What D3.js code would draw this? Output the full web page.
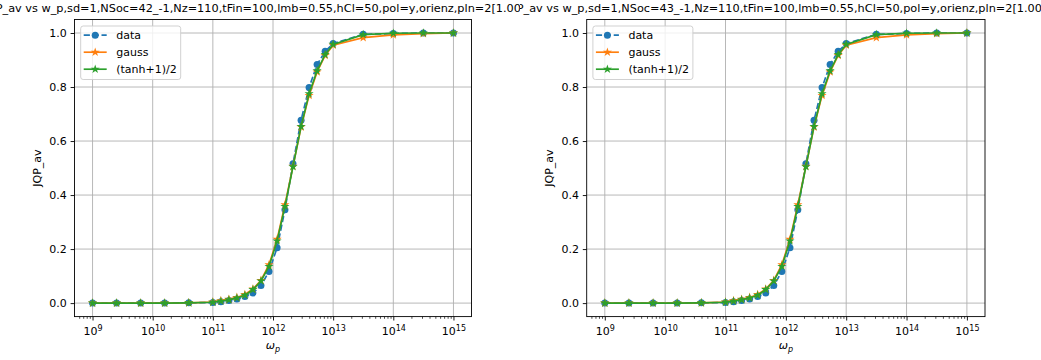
<!DOCTYPE html>
<html>
<head>
<meta charset="utf-8">
<script src="https://cdn.jsdelivr.net/npm/d3@7"></script>
<style>
  body { margin: 0; background: #fff; }
  svg { display: block; font-family: "DejaVu Sans", sans-serif; }
  .tick text { font-family: "DejaVu Sans", sans-serif; }
</style>
</head>
<body>
<div id="chart"></div>
<script>
// omega_p sample points (log spaced)
const wP = [1e9, 2.51e9, 6.31e9, 1.58e10, 3.98e10, 1e11, 1.36e11, 1.85e11, 2.51e11, 3.41e11,
  4.64e11, 6.31e11, 8.58e11, 1.17e12, 1.58e12, 2.15e12, 2.93e12, 3.98e12, 5.41e12, 7.36e12,
  1e13, 3.16e13, 1e14, 3.16e14, 1e15];

// measured JQP_av
const jqpData = [0, 0, 0, 0, 0.001, 0.002, 0.005, 0.01, 0.015, 0.024,
  0.037, 0.065, 0.117, 0.205, 0.346, 0.516, 0.677, 0.798, 0.883, 0.932,
  0.961, 0.995, 0.998, 1.0, 1.0];

// gauss fit
const jqpGauss = [0, 0, 0, 0, 0.001, 0.004, 0.009, 0.014, 0.021, 0.032,
  0.052, 0.084, 0.142, 0.236, 0.364, 0.507, 0.652, 0.769, 0.856, 0.917,
  0.955, 0.983, 0.993, 0.998, 1.0];

// (tanh+1)/2 fit
const jqpTanh = [0, 0, 0, 0, 0.001, 0.003, 0.007, 0.012, 0.019, 0.029,
  0.05, 0.082, 0.136, 0.23, 0.358, 0.505, 0.654, 0.775, 0.86, 0.92,
  0.958, 0.994, 0.999, 1.0, 1.0];

const nSoc = ["42", "43"];
const seriesNames = ["data", "gauss", "(tanh+1)/2"];
const colors = ["#1f77b4", "#ff7f0e", "#2ca02c"];
const yTicks = [0, 0.2, 0.4, 0.6, 0.8, 1.0];
const xDecades = [9, 10, 11, 12, 13, 14, 15];

const width = 1041, height = 360;
const svg = d3.select("#chart").append("svg")
  .attr("width", width)
  .attr("height", height);

// figure panels: each is its own little figure, titles get clipped at the panel edges
const panels = [
  { fx: 0, fw: 520, left: 74.5, right: 471.5, title: nSoc[0] },
  { fx: 520, fw: 521, left: 586.7, right: 985, title: nSoc[1] }
];
const axTop = 19.5, axBottom = 316.6;

const defs = svg.append("defs");

// title font size: fit "_av ... [1.00" into one panel width, as in the picture
const probeStr = "_av vs w_p,sd=1,NSoc=42_-1,Nz=110,tFin=100,lmb=0.55,hCl=50,pol=y,orienz,pln=2[1.00";
const probe = svg.append("text").attr("font-size", 20).text(probeStr);
const titleSize = 20 * 519 / probe.node().getComputedTextLength();
probe.text("JQP").attr("font-size", titleSize);
const prefixW = probe.node().getComputedTextLength();
probe.remove();

panels.forEach((p, i) => {
  defs.append("clipPath").attr("id", "fig" + i)
    .append("rect").attr("x", p.fx).attr("y", 0).attr("width", p.fw).attr("height", height);

  const x = d3.scaleLog().domain([Math.pow(10, 8.7), Math.pow(10, 15.3)]).range([p.left, p.right]);
  const y = d3.scaleLinear().domain([-0.05, 1.05]).range([axBottom, axTop]);

  const g = svg.append("g");

  // grid
  g.append("g").selectAll("line")
    .data(xDecades)
    .join("line")
    .attr("x1", d => x(Math.pow(10, d))).attr("x2", d => x(Math.pow(10, d)))
    .attr("y1", axTop).attr("y2", axBottom)
    .attr("stroke", "#b0b0b0").attr("stroke-width", 0.9);
  g.append("g").selectAll("line")
    .data(yTicks)
    .join("line")
    .attr("x1", p.left).attr("x2", p.right)
    .attr("y1", d => y(d)).attr("y2", d => y(d))
    .attr("stroke", "#b0b0b0").attr("stroke-width", 0.9);

  // series
  const allSeries = [jqpData, jqpGauss, jqpTanh];
  const line = d3.line().x((d, j) => x(wP[j])).y(d => y(d));
  allSeries.forEach((vals, k) => {
    const sg = g.append("g");
    sg.append("path")
      .datum(vals)
      .attr("d", line)
      .attr("fill", "none")
      .attr("stroke", colors[k])
      .attr("stroke-width", 1.67)
      .attr("stroke-dasharray", k === 0 ? "6.2,2.7" : null);
    if (k === 0) {
      sg.selectAll("circle")
        .data(vals)
        .join("circle")
        .attr("cx", (d, j) => x(wP[j]))
        .attr("cy", d => y(d))
        .attr("r", 3.5)
        .attr("fill", colors[k]);
    } else {
      sg.selectAll("path.m")
        .data(vals)
        .join("path")
        .attr("class", "m")
        .attr("transform", (d, j) => `translate(${x(wP[j])},${y(d)})`)
        .attr("d", d3.symbol(d3.symbolStar, 26))
        .attr("fill", colors[k]);
    }
  });

  // axes
  const minor = [];
  for (let e = 8; e <= 15; e++) {
    for (let m = 2; m <= 9; m++) {
      const v = m * Math.pow(10, e);
      if (v > x.domain()[0] && v < x.domain()[1]) minor.push(v);
    }
  }
  g.append("g")
    .attr("transform", `translate(0,${axBottom})`)
    .call(d3.axisBottom(x).tickValues(minor).tickSize(2.2).tickFormat(""))
    .call(a => a.select(".domain").remove())
    .call(a => a.selectAll("line").attr("stroke-width", 0.7));

  const xAxis = g.append("g")
    .attr("transform", `translate(0,${axBottom})`)
    .call(d3.axisBottom(x).tickValues(xDecades.map(d => Math.pow(10, d))).tickSize(3.9).tickPadding(3.9).tickFormat(""))
    .call(a => a.select(".domain").remove())
    .call(a => a.selectAll("line").attr("stroke-width", 0.9));
  xAxis.selectAll(".tick").each(function (d, j) {
    const t = d3.select(this).append("text")
      .attr("y", 18.5)
      .attr("fill", "#000")
      .attr("font-size", 11)
      .attr("text-anchor", "middle");
    t.append("tspan").text("10");
    t.append("tspan").attr("dy", -4.5).attr("font-size", 8).text(xDecades[j]);
  });

  g.append("g")
    .attr("transform", `translate(${p.left},0)`)
    .call(d3.axisLeft(y).tickValues(yTicks).tickSize(3.9).tickPadding(3.9).tickFormat(d3.format(".1f")))
    .call(a => a.select(".domain").remove())
    .call(a => a.selectAll("line").attr("stroke-width", 0.9))
    .call(a => a.selectAll("text").attr("font-size", 11).attr("fill", "#000"));

  // spines
  g.append("rect")
    .attr("x", p.left).attr("y", axTop)
    .attr("width", p.right - p.left).attr("height", axBottom - axTop)
    .attr("fill", "none").attr("stroke", "#000").attr("stroke-width", 0.9);

  // axis labels
  const xl = g.append("text")
    .attr("x", (p.left + p.right) / 2)
    .attr("y", 349)
    .attr("text-anchor", "middle")
    .attr("font-size", 11);
  xl.append("tspan").attr("font-style", "italic").text("ω");
  xl.append("tspan").attr("font-style", "italic").attr("font-size", 8).attr("dy", 2.5).text("p");

  g.append("text")
    .attr("transform", `translate(${p.left - 33.5},${(axTop + axBottom) / 2}) rotate(-90)`)
    .attr("text-anchor", "middle")
    .attr("font-size", 11)
    .text("JQP_av");

  // legend
  const lg = g.append("g").attr("transform", `translate(${p.left + 6.2},${axTop + 6.5})`);
  lg.append("rect")
    .attr("width", 100).attr("height", 53.5)
    .attr("rx", 2.5)
    .attr("fill", "#fff").attr("fill-opacity", 0.8)
    .attr("stroke", "#cccccc").attr("stroke-width", 0.9);
  seriesNames.forEach((name, k) => {
    const yy = 9.2 + k * 17;
    lg.append("line")
      .attr("x1", 3).attr("x2", 26).attr("y1", yy).attr("y2", yy)
      .attr("stroke", colors[k]).attr("stroke-width", 1.67)
      .attr("stroke-dasharray", k === 0 ? "6.2,2.7" : null);
    if (k === 0) {
      lg.append("circle").attr("cx", 14.5).attr("cy", yy).attr("r", 3.5).attr("fill", colors[k]);
    } else {
      lg.append("path").attr("transform", `translate(14.5,${yy})`)
        .attr("d", d3.symbol(d3.symbolStar, 26)).attr("fill", colors[k]);
    }
    lg.append("text")
      .attr("x", 35.5).attr("y", yy + 4)
      .attr("font-size", 11)
      .text(name);
  });

  // title (clipped to its own figure)
  svg.append("g").attr("clip-path", `url(#fig${i})`)
    .append("text")
    .attr("x", p.fx + (i === 0 ? 2.5 : 3.5) - prefixW)
    .attr("y", 12)
    .attr("font-size", titleSize)
    .text(`JQP_av vs w_p,sd=1,NSoc=${p.title}_-1,Nz=110,tFin=100,lmb=0.55,hCl=50,pol=y,orienz,pln=2[1.00 1.00]`);
});
</script>
</body>
</html>
